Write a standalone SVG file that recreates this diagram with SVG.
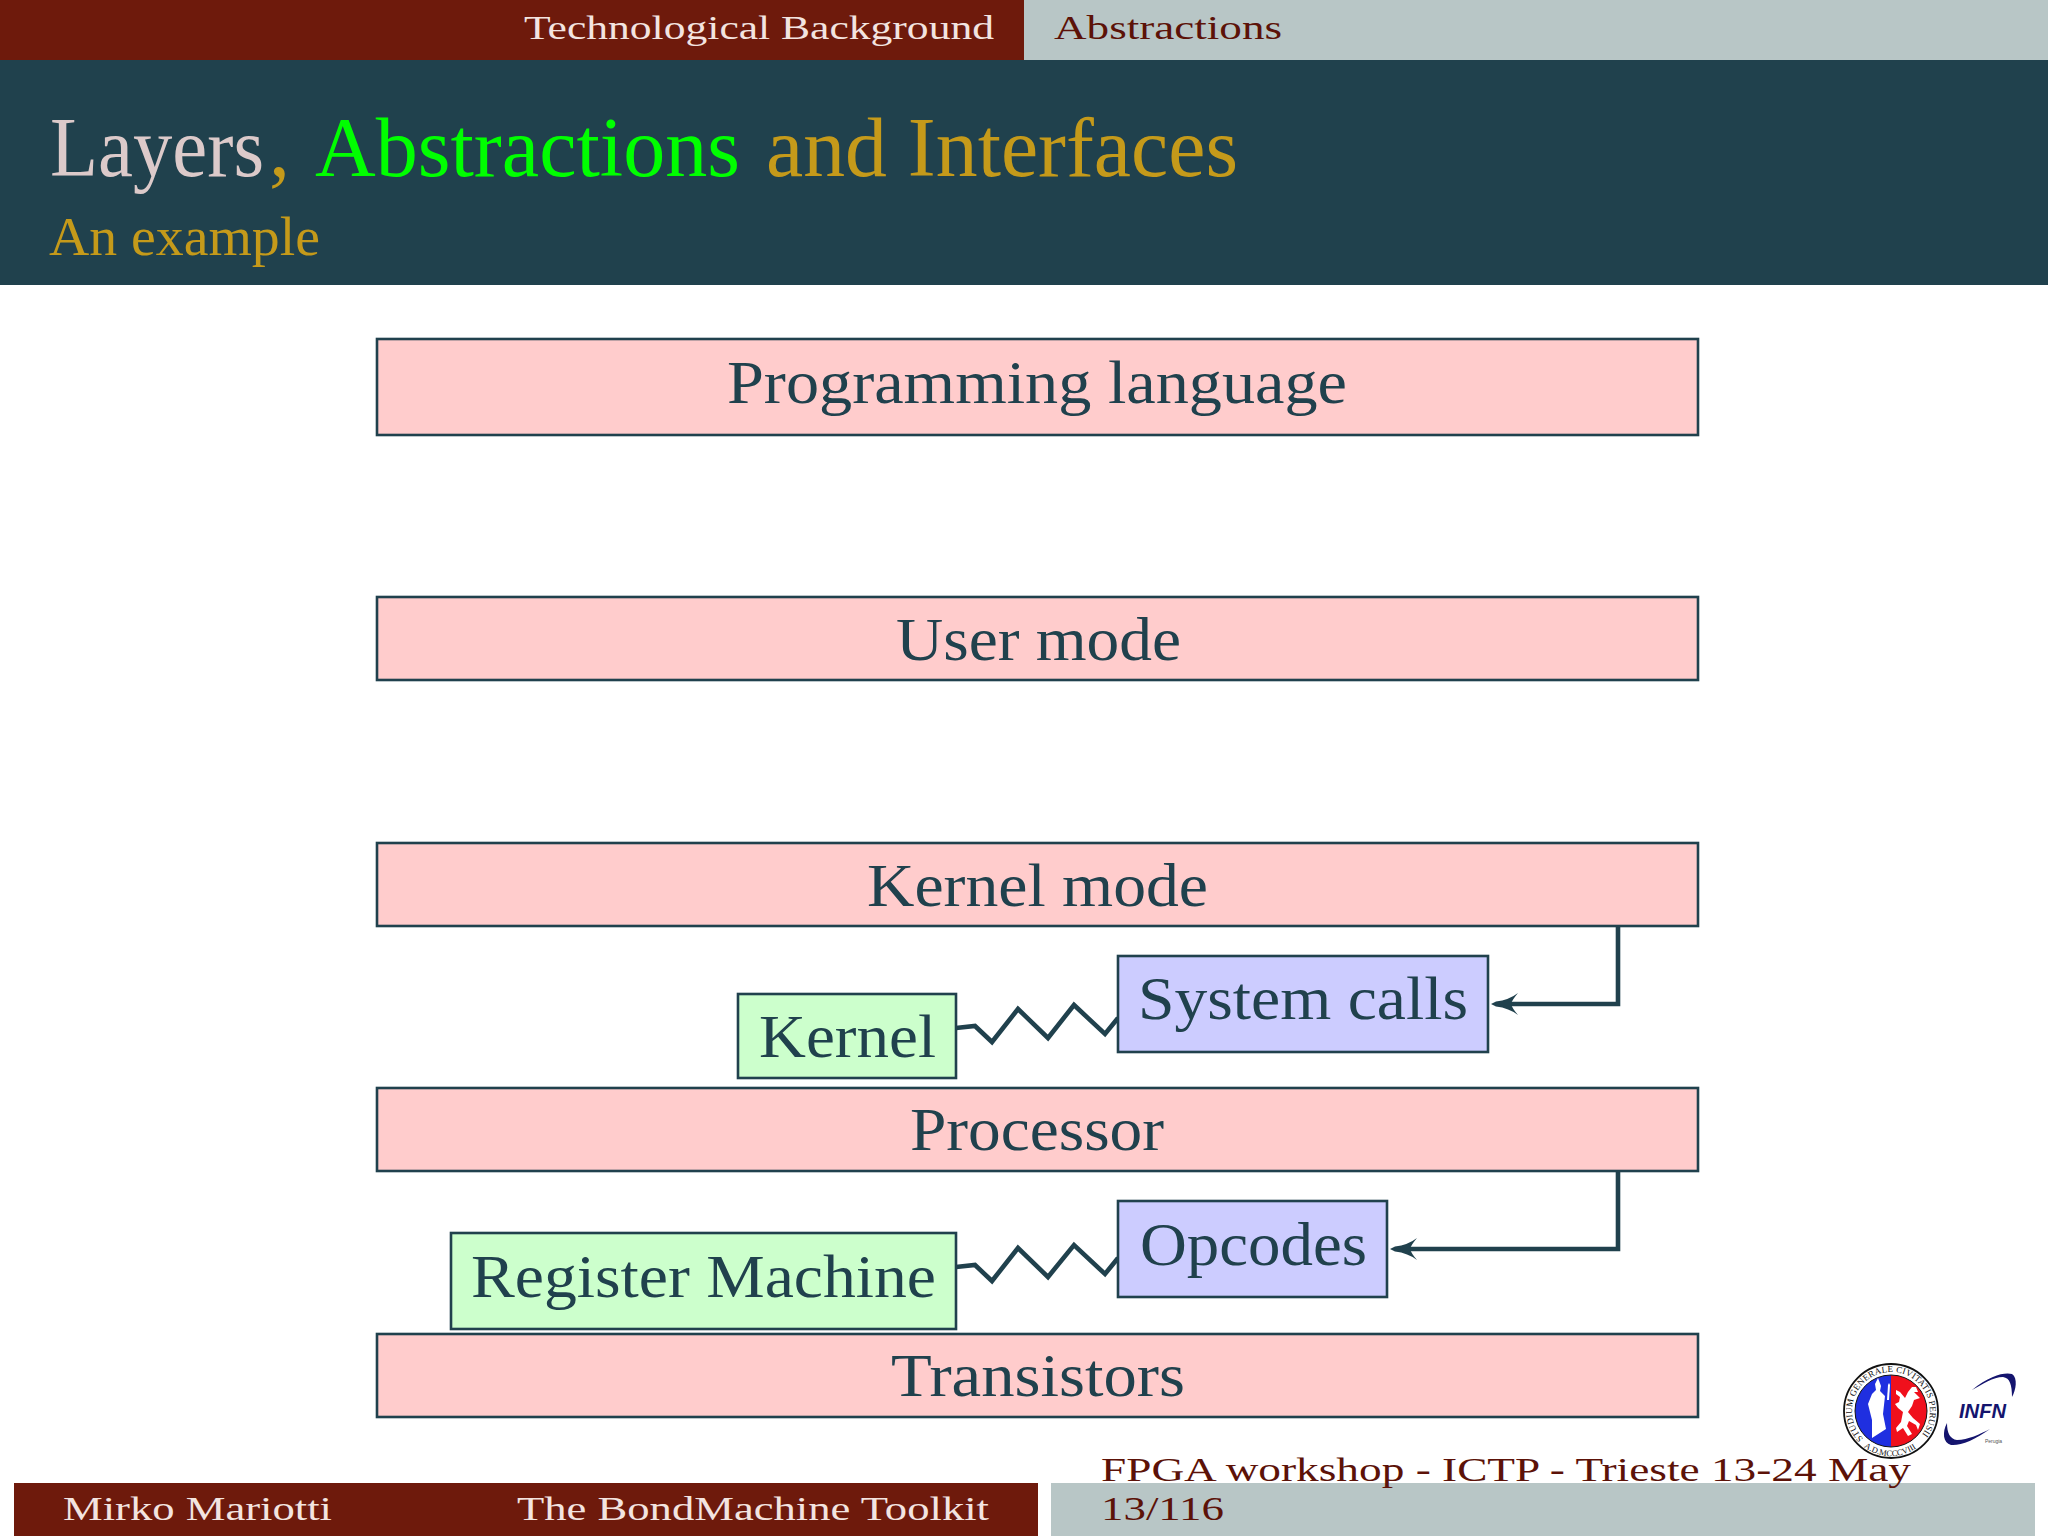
<svg xmlns="http://www.w3.org/2000/svg" width="2048" height="1536" viewBox="0 0 2048 1536">
<style>
text{font-family:"Liberation Serif","Times New Roman",serif}
.box{stroke:#20414d;stroke-width:2.6}
.layer{fill:#ffcccc}
.green{fill:#ccffcc}
.blue{fill:#ccccff}
.lbl{font-size:62px;fill:#20414d}
.head{font-size:34px}
.foot{font-size:34px}
.wire{fill:none;stroke:#20414d;stroke-width:4.6}
</style>
<defs>
<marker id="arr" markerUnits="userSpaceOnUse" markerWidth="28" markerHeight="24" viewBox="0 0 28 24" refX="13" refY="12" orient="auto">
<path d="M27 12L22 14.5Q9 16 0 23Q6 16 7 12Q6 8 0 1Q9 8 22 9.500Z" fill="#20414d"/>
</marker>
<path id="ringTop" d="M1863.400 1438.600A39 39 0 1 1 1918.600 1438.600"/>
<path id="ringBot" d="M1862 1445.500A45 45 0 0 0 1920 1445.500"/>
</defs>
<rect width="2048" height="1536" fill="#fff"/>

<g id="header">
<rect x="0" y="0" width="1024" height="60" fill="#6e1a0c"/>
<rect x="1024" y="0" width="1024" height="60" fill="#b8c6c6"/>
<rect x="0" y="60" width="2048" height="225" fill="#20414d"/>
<text class="head" x="524" y="39" fill="#f3e4e0" textLength="470" lengthAdjust="spacingAndGlyphs">Technological Background</text>
<text class="head" x="1054" y="39" fill="#5c1208" textLength="228" lengthAdjust="spacingAndGlyphs">Abstractions</text>
<text x="50" y="176" font-size="84" fill="#dccaca" textLength="214" lengthAdjust="spacingAndGlyphs">Layers</text>
<text x="269" y="176" font-size="84" fill="#c59a1a">,</text>
<text x="315" y="176" font-size="84" fill="#00ff00" textLength="425" lengthAdjust="spacingAndGlyphs">Abstractions</text>
<text x="766" y="176" font-size="84" fill="#c59a1a" textLength="472" lengthAdjust="spacingAndGlyphs">and Interfaces</text>
<text x="49" y="255" font-size="54" fill="#c59a1a" textLength="271" lengthAdjust="spacingAndGlyphs">An example</text>
</g>

<g id="connectors">
<path class="wire" d="M1618 926V1004H1505" marker-end="url(#arr)"/>
<path class="wire" d="M1618 1171V1249H1404" marker-end="url(#arr)"/>
<path class="wire" d="M956 1028L975 1026L992 1042L1018 1009L1048 1038L1074 1005L1105 1034L1118 1018"/>
<path class="wire" d="M956 1267L975 1265L992 1281L1018 1248L1048 1277L1074 1245L1105 1274L1118 1258"/>
</g>

<g id="programming-language">
<rect class="box layer" x="377" y="339" width="1321" height="96"/>
<text class="lbl" x="727" y="403" textLength="620" lengthAdjust="spacingAndGlyphs">Programming language</text>
</g>
<g id="user-mode">
<rect class="box layer" x="377" y="597" width="1321" height="83"/>
<text class="lbl" x="896" y="660" textLength="285" lengthAdjust="spacingAndGlyphs">User mode</text>
</g>
<g id="kernel-mode">
<rect class="box layer" x="377" y="843" width="1321" height="83"/>
<text class="lbl" x="867" y="906" textLength="341" lengthAdjust="spacingAndGlyphs">Kernel mode</text>
</g>
<g id="processor">
<rect class="box layer" x="377" y="1088" width="1321" height="83"/>
<text class="lbl" x="910" y="1150" textLength="254" lengthAdjust="spacingAndGlyphs">Processor</text>
</g>
<g id="transistors">
<rect class="box layer" x="377" y="1334" width="1321" height="83"/>
<text class="lbl" x="891" y="1396" textLength="294" lengthAdjust="spacingAndGlyphs">Transistors</text>
</g>
<g id="system-calls">
<rect class="box blue" x="1118" y="956" width="370" height="96"/>
<text class="lbl" x="1138" y="1019" textLength="330" lengthAdjust="spacingAndGlyphs">System calls</text>
</g>
<g id="kernel">
<rect class="box green" x="738" y="994" width="218" height="84"/>
<text class="lbl" x="759" y="1057" textLength="177" lengthAdjust="spacingAndGlyphs">Kernel</text>
</g>
<g id="opcodes">
<rect class="box blue" x="1118" y="1201" width="269" height="96"/>
<text class="lbl" x="1140" y="1265" textLength="227" lengthAdjust="spacingAndGlyphs">Opcodes</text>
</g>
<g id="register-machine">
<rect class="box green" x="451" y="1233" width="505" height="96"/>
<text class="lbl" x="471" y="1297" textLength="465" lengthAdjust="spacingAndGlyphs">Register Machine</text>
</g>

<g id="footer">
<rect x="14" y="1483" width="1024" height="53" fill="#6e1a0c"/>
<rect x="1051" y="1483" width="984" height="53" fill="#b8c6c6"/>
<text class="foot" x="63" y="1520" fill="#f3e4e0" textLength="269" lengthAdjust="spacingAndGlyphs">Mirko Mariotti</text>
<text class="foot" x="517" y="1520" fill="#f3e4e0" textLength="472" lengthAdjust="spacingAndGlyphs">The BondMachine Toolkit</text>
<text class="foot" x="1101" y="1481" fill="#5c1208" textLength="810" lengthAdjust="spacingAndGlyphs">FPGA workshop - ICTP - Trieste 13-24 May</text>
<text class="foot" x="1101" y="1520" fill="#5c1208" textLength="123" lengthAdjust="spacingAndGlyphs">13/116</text>
</g>

<g id="seal">
<circle cx="1891" cy="1411" r="47" fill="#fff" stroke="#111" stroke-width="1.8"/>
<path d="M1891 1375A36 36 0 0 0 1891 1447Z" fill="#1f2fe0"/>
<path d="M1891 1375A36 36 0 0 1 1891 1447Z" fill="#f0101c"/>
<circle cx="1891" cy="1411" r="36" fill="none" stroke="#111" stroke-width="1"/>
<path d="M1878 1378L1881 1386L1880 1391L1885 1396L1883 1414L1886 1429L1872 1438L1872 1420L1868 1404L1872 1394L1876 1390L1875 1384Z" fill="#fff"/>
<path d="M1888 1385L1889 1383L1890 1385L1889 1400L1887 1400Z" fill="#fff"/>
<path d="M1896 1390L1900 1392L1905 1398L1908 1392L1912 1387L1916 1387L1918 1392L1914 1392L1920 1398L1914 1400L1912 1406L1908 1412L1913 1418L1920 1424L1918 1430L1916 1425L1909 1421L1907 1426L1912 1434L1908 1436L1903 1428L1897 1432L1896 1428L1901 1422L1903 1412L1898 1408L1895 1404L1899 1402L1900 1397L1896 1394Z" fill="#fff"/>
<text font-size="9" fill="#111" letter-spacing="0.2"><textPath href="#ringTop">STUDIUM GENERALE CIVITATIS PERUSII</textPath></text>
<text font-size="8.500" fill="#111"><textPath href="#ringBot" startOffset="4%">A.D.MCCCVIII</textPath></text>
</g>

<g id="infn">
<path d="M1972 1390C1990 1375 2005 1372 2012 1374C2018 1378 2016 1390 2012 1397C2012 1385 2010 1378 2003 1377C1993 1377 1983 1384 1972 1390Z" fill="#14146e"/>
<path d="M1990 1429C1975 1440 1960 1446 1951 1445C1943 1443 1942 1432 1947 1423C1947 1433 1950 1439 1957 1440C1968 1440 1980 1434 1990 1429Z" fill="#14146e"/>
<text x="1959" y="1418" font-size="21" font-weight="700" font-style="italic" fill="#14146e" textLength="47" lengthAdjust="spacingAndGlyphs" style="font-family:'Liberation Sans',Arial,sans-serif">INFN</text>
<text x="1985" y="1443" font-size="5" fill="#555" textLength="17" style="font-family:'Liberation Sans',Arial,sans-serif">Perugia</text>
</g>
</svg>
